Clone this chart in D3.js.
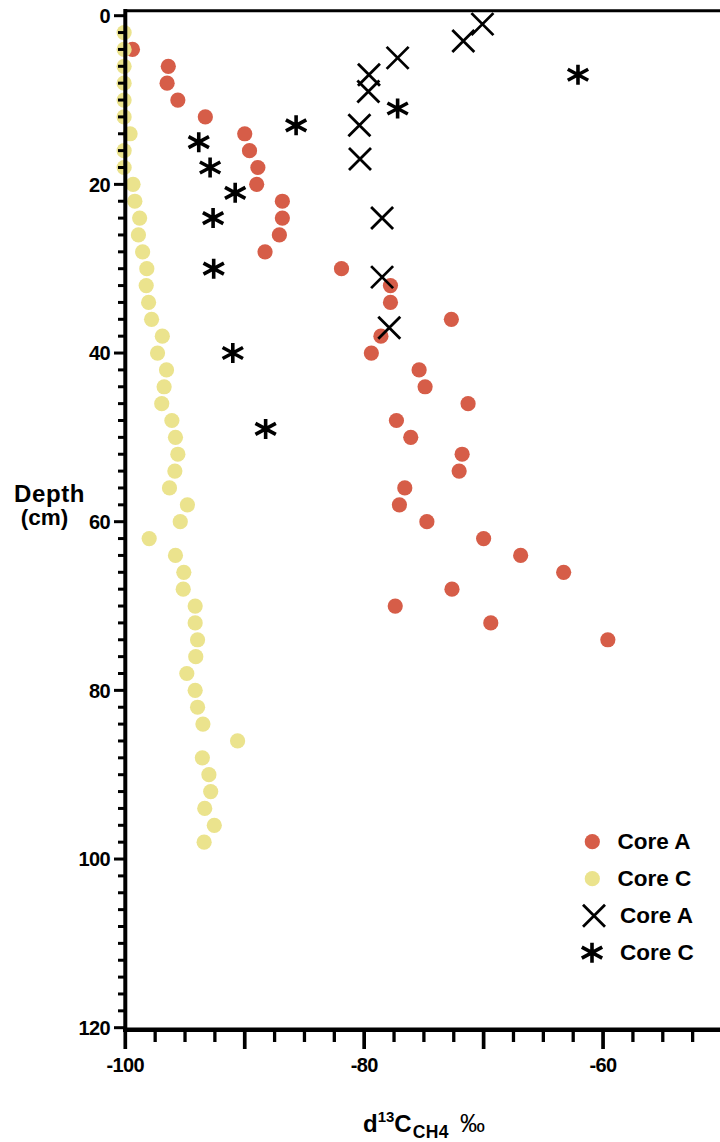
<!DOCTYPE html>
<html>
<head>
<meta charset="utf-8">
<script src="https://cdn.jsdelivr.net/npm/d3@7"></script>
<style>
  html, body { margin: 0; padding: 0; background: #fff; }
  svg { display: block; }
  text { font-family: "Liberation Sans", Arial, Helvetica, sans-serif; font-weight: bold; fill: #000; }
</style>
</head>
<body>
<script>
// δ13C of CH4 (‰) versus sediment depth (cm)

// Core A, dissolved CH4 (filled circles)
const coreADepth = [4, 6, 8, 10, 12, 14, 16, 18, 20, 22, 24, 26, 28, 30, 32, 34, 36, 38, 40,
  42, 44, 46, 48, 50, 52, 54, 56, 58, 60, 62, 64, 66, 68, 70, 72, 74];
const coreAValue = [-99.4, -96.4, -96.5, -95.6, -93.3, -90.0, -89.6, -88.9, -89.0, -86.85, -86.85,
  -87.1, -88.3, -81.9, -77.8, -77.8, -72.7, -78.6, -79.4, -75.4, -74.9, -71.3, -77.3, -76.1,
  -71.8, -72.05, -76.6, -77.05, -74.75, -70.0, -66.9, -63.3, -72.65, -77.4, -69.4, -59.6];

// Core C, dissolved CH4 (filled circles)
const coreCDepth = [2, 4, 6, 8, 10, 12, 14, 16, 18, 20, 22, 24, 26, 28, 30, 32, 34, 36, 38, 40,
  42, 44, 46, 48, 50, 52, 54, 56, 58, 60, 62, 64, 66, 68, 70, 72, 74, 76, 78, 80, 82, 84, 86,
  88, 90, 92, 94, 96, 98];
const coreCValue = [-100.1, -100.1, -100.1, -100.1, -100.1, -100.1, -99.6, -100.1, -100.1, -99.35,
  -99.2, -98.8, -98.9, -98.55, -98.2, -98.25, -98.05, -97.8, -96.9, -97.3, -96.55, -96.75, -96.95,
  -96.1, -95.8, -95.6, -95.85, -96.3, -94.8, -95.4, -98.0, -95.8, -95.1, -95.15, -94.15, -94.15,
  -93.95, -94.1, -94.85, -94.15, -93.95, -93.5, -90.6, -93.55, -93.0, -92.85, -93.35, -92.55, -93.4];

// Core A, second series (crosses)
const coreAXDepth = [1, 3, 5, 7, 9, 13, 17, 24, 31, 37];
const coreAXValue = [-70.1, -71.7, -77.2, -79.6, -79.65, -80.4, -80.35, -78.5, -78.5, -77.9];

// Core C, second series (asterisks)
const coreCXDepth = [7, 11, 13, 15, 18, 21, 24, 30, 40, 49];
const coreCXValue = [-62.1, -77.2, -85.7, -93.85, -92.9, -90.8, -92.65, -92.6, -91.0, -88.25];

// Axis ticks
const yTickLabels = [0, 20, 40, 60, 80, 100, 120];
const xTickLabels = [-100, -80, -60];

// Legend entries
const legendLabels = ["Core A", "Core C", "Core A", "Core C"];

const W = 720, H = 1142;
const RED = "#d65d48", YELLOW = "#ebe38d";

const svg = d3.select("body").append("svg")
  .attr("width", W).attr("height", H)
  .attr("viewBox", `0 0 ${W} ${H}`);
svg.append("rect").attr("width", W).attr("height", H).attr("fill", "#fff");

const x = d3.scaleLinear().domain([-100, -50]).range([125.3, 722.5]);
const y = d3.scaleLinear().domain([0, 120]).range([15.7, 1027.7]);

const zip = (ds, vs) => ds.map((d, i) => ({ depth: d, value: vs[i] }));

// custom marker shapes: size is used as the half-width of the glyph
const symTimes = {
  draw(ctx, r) {
    ctx.moveTo(-r, -r); ctx.lineTo(r, r);
    ctx.moveTo(-r, r); ctx.lineTo(r, -r);
  }
};
const symAsterisk = {
  draw(ctx, r) {
    const u = r * 1.02, t = r * 0.55;
    ctx.moveTo(0, -r); ctx.lineTo(0, r);
    ctx.moveTo(-u, -t); ctx.lineTo(u, t);
    ctx.moveTo(-u, t); ctx.lineTo(u, -t);
  }
};

const plot = svg.append("g");

// filled circles
plot.append("g").selectAll("circle").data(zip(coreADepth, coreAValue)).join("circle")
  .attr("cx", d => x(d.value)).attr("cy", d => y(d.depth))
  .attr("r", 7.6).attr("fill", RED);

plot.append("g").selectAll("circle").data(zip(coreCDepth, coreCValue)).join("circle")
  .attr("cx", d => x(d.value)).attr("cy", d => y(d.depth))
  .attr("r", 7.6).attr("fill", YELLOW);

// crosses
plot.append("g").selectAll("path").data(zip(coreAXDepth, coreAXValue)).join("path")
  .attr("d", d3.symbol().type(symTimes).size(11))
  .attr("transform", d => `translate(${x(d.value)},${y(d.depth)})`)
  .attr("fill", "none").attr("stroke", "#000").attr("stroke-width", 2.8);

// asterisks
plot.append("g").selectAll("path").data(zip(coreCXDepth, coreCXValue)).join("path")
  .attr("d", d3.symbol().type(symAsterisk).size(10))
  .attr("transform", d => `translate(${x(d.value)},${y(d.depth)})`)
  .attr("fill", "none").attr("stroke", "#000").attr("stroke-width", 3.6);

// frame line along the top
svg.append("line")
  .attr("x1", 125).attr("x2", W).attr("y1", 10.7).attr("y2", 10.7)
  .attr("stroke", "#000").attr("stroke-width", 3);

// Y axis (depth), ticks every 2 cm, labelled every 20 cm
const yAxis = svg.append("g");
yAxis.append("line")
  .attr("x1", x(-100)).attr("x2", x(-100)).attr("y1", 9).attr("y2", 1031.5)
  .attr("stroke", "#000").attr("stroke-width", 4);
yAxis.selectAll("line.tick").data(d3.range(0, 121, 2)).join("line")
  .attr("class", "tick")
  .attr("x1", d => d % 20 === 0 ? 114 : 118).attr("x2", x(-100))
  .attr("y1", d => y(d)).attr("y2", d => y(d))
  .attr("stroke", "#000").attr("stroke-width", 3);
yAxis.selectAll("text").data(yTickLabels).join("text")
  .attr("x", 110).attr("y", d => y(d) + 7.2)
  .attr("text-anchor", "end").attr("font-size", 20)
  .attr("letter-spacing", -0.6)
  .text(d => d);

// X axis (δ13C), ticks every 2.5 ‰, labelled every 20 ‰
const xAxis = svg.append("g");
xAxis.append("line")
  .attr("x1", 123).attr("x2", W).attr("y1", 1029.7).attr("y2", 1029.7)
  .attr("stroke", "#000").attr("stroke-width", 4.5);
xAxis.selectAll("line.tick").data(d3.range(-100, -49, 2.5)).join("line")
  .attr("class", "tick")
  .attr("x1", d => x(d)).attr("x2", d => x(d))
  .attr("y1", 1029.7).attr("y2", d => (d % 10 === 0) ? 1049 : 1042)
  .attr("stroke", "#000").attr("stroke-width", d => (d % 10 === 0) ? 3.7 : 3.3);
xAxis.selectAll("text").data(xTickLabels).join("text")
  .attr("x", d => x(d)).attr("y", 1072)
  .attr("text-anchor", "middle").attr("font-size", 20)
  .attr("letter-spacing", -0.6)
  .text(d => d);

// axis titles
svg.append("text").attr("x", 49.5).attr("y", 501.5)
  .attr("text-anchor", "middle").attr("font-size", 24).attr("letter-spacing", 0.6)
  .text("Depth");
svg.append("text").attr("x", 44.5).attr("y", 525)
  .attr("text-anchor", "middle").attr("font-size", 22.5)
  .text("(cm)");

const xt = svg.append("text").attr("x", 363).attr("y", 1132).attr("font-size", 24);
xt.append("tspan").text("d");
xt.append("tspan").attr("font-size", 15).attr("dy", -10.5).text("13");
xt.append("tspan").attr("dy", 10.5).text("C");
xt.append("tspan").attr("font-size", 17.5).attr("dy", 5.5).attr("dx", 1).attr("letter-spacing", 0.4).text("CH4");
xt.append("tspan").attr("font-size", 25).attr("font-weight", "normal").attr("dy", -5.5).attr("dx", 11).text("‰");

// legend
const legendMarkers = [
  { kind: "circle", color: RED },
  { kind: "circle", color: YELLOW },
  { kind: "times" },
  { kind: "asterisk" }
];
const legendY = d3.scalePoint().domain(d3.range(4)).range([841.7, 952.7]);
const legend = svg.append("g");
legendMarkers.forEach((m, i) => {
  const cy = legendY(i);
  if (m.kind === "circle") {
    legend.append("circle").attr("cx", 592.3).attr("cy", cy).attr("r", 7.6).attr("fill", m.color);
  } else if (m.kind === "times") {
    legend.append("path").attr("d", d3.symbol().type(symTimes).size(11))
      .attr("transform", `translate(594,${cy})`)
      .attr("fill", "none").attr("stroke", "#000").attr("stroke-width", 2.8);
  } else {
    legend.append("path").attr("d", d3.symbol().type(symAsterisk).size(10))
      .attr("transform", `translate(592,${cy})`)
      .attr("fill", "none").attr("stroke", "#000").attr("stroke-width", 3.6);
  }
  legend.append("text")
    .attr("x", i < 2 ? 617.5 : 620).attr("y", cy + 7.6)
    .attr("font-size", 22.5)
    .text(legendLabels[i]);
});
</script>
</body>
</html>
